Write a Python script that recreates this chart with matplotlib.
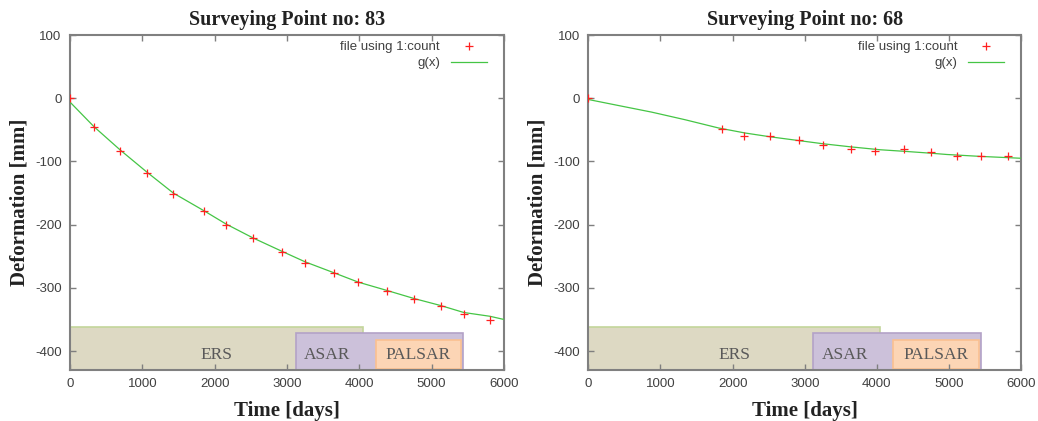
import numpy as np
import matplotlib.pyplot as plt

plt.rcParams['axes.unicode_minus'] = False

# survey epochs (days) and measured deformation (mm)
days_83 = [0, 332, 696, 1065, 1429, 1853, 2158, 2531, 2928, 3255, 3647, 3988, 4380, 4762, 5127, 5446, 5809]
defo_83 = [0, -45, -83, -118, -152, -178, -201, -221, -243, -260, -276, -291, -305, -317, -329, -342, -351]

days_68 = [0, 1854, 2159, 2520, 2918, 3251, 3644, 3981, 4383, 4753, 5114, 5451, 5817]
defo_68 = [0, -49, -60, -59, -66, -74, -80, -84, -81, -85, -92, -92, -91]

# fitted curve g(x), sampled
gx = [0, 332, 696, 1065, 1429, 1853, 2158, 2531, 2928, 3255, 3647, 3988, 4380, 4762, 5127, 5446, 5809, 6000]
g_83 = [-6, -45, -82, -117, -150, -178, -199, -221, -242, -259, -276, -291, -304, -317, -328, -339, -345, -350]
gx_68 = [0, 416, 879, 1341, 1803, 2173, 2520, 2918, 3251, 3644, 4044, 4383, 4753, 4970, 5433, 5817, 6000]
g_68 = [-2, -11.5, -22, -34, -47, -55, -61, -67, -72, -77, -81.5, -84, -87, -89, -92, -94, -95]

# sensor coverage bands: name, start, end, top
sensors = ['ERS', 'ASAR', 'PALSAR']
sens_start = [0, 3120, 4230]
sens_end = [4050, 5440, 5410]
sens_top = [-362, -372, -382]
sens_bottom = [-432, -432, -429]
sens_face = ['#ddd9c3', '#ccc1da', '#fcd5b5']
sens_edge = ['#c3d69b', '#b3a2c7', '#fac090']
sens_label_x = [2030, 3555, 4817]

serif = ['Liberation Serif', 'DejaVu Serif']
sans = ['Liberation Sans', 'DejaVu Sans']

fig = plt.figure(figsize=(10.38, 4.21), dpi=100)
ax1 = fig.add_axes([0.0674, 0.1211, 0.418, 0.7957])
ax2 = fig.add_axes([0.5668, 0.1211, 0.4169, 0.7957])


def draw_panel(ax, t, d, cx, cy, num):
    for i in range(len(sensors)):
        ax.bar(sens_start[i], sens_top[i] - sens_bottom[i], width=sens_end[i] - sens_start[i],
               bottom=sens_bottom[i], align='edge', color=sens_face[i],
               edgecolor=sens_edge[i], linewidth=1.2, zorder=1)
        ax.text(sens_label_x[i], -407, sensors[i], ha='center', va='center',
                fontsize=12.5, color='#595959', family=serif, zorder=2)
    ax.plot(t, d, '+', color='#ff2020', markersize=6, markeredgewidth=0.9,
            label='file using 1:count', zorder=4)
    ax.plot(cx, cy, '-', color='#45c545', linewidth=0.9, label='g(x)', zorder=3)

    ax.set_xlim(0, 6000)
    ax.set_ylim(-430, 100)
    ax.set_xticks(np.arange(0, 6001, 1000))
    ax.set_yticks([-400, -300, -200, -100, 0, 100])
    ax.tick_params(direction='in', top=True, right=True, length=4, width=1,
                   colors='#7f7f7f', labelcolor='#404040', labelsize=9.5, pad=6)
    for lab in ax.get_xticklabels() + ax.get_yticklabels():
        lab.set_family(sans)
    for s in ax.spines.values():
        s.set_color('#808080')
        s.set_linewidth(1.5)

    ax.set_title('Surveying Point no: %d' % num, fontsize=14.5, fontweight='bold',
                 family=serif, color='#222222', pad=7.5)
    ax.set_xlabel('Time [days]', fontsize=15, fontweight='bold',
                  family=serif, color='#222222', labelpad=8)
    ax.set_ylabel('Deformation [mm]', fontsize=15, fontweight='bold',
                  family=serif, color='#222222', labelpad=4)

    leg = ax.legend(loc='upper right', bbox_to_anchor=(0.979, 1.006), frameon=False,
                    markerfirst=False, prop={'family': sans, 'size': 9.5}, handlelength=2.7,
                    borderaxespad=0.2, labelspacing=0.3, handletextpad=0.85)
    for txt in leg.get_texts():
        txt.set_color('#404040')
        txt.set_ha('right')


draw_panel(ax1, days_83, defo_83, gx, g_83, 83)
draw_panel(ax2, days_68, defo_68, gx_68, g_68, 68)

fig.savefig('out.png', dpi=100)
